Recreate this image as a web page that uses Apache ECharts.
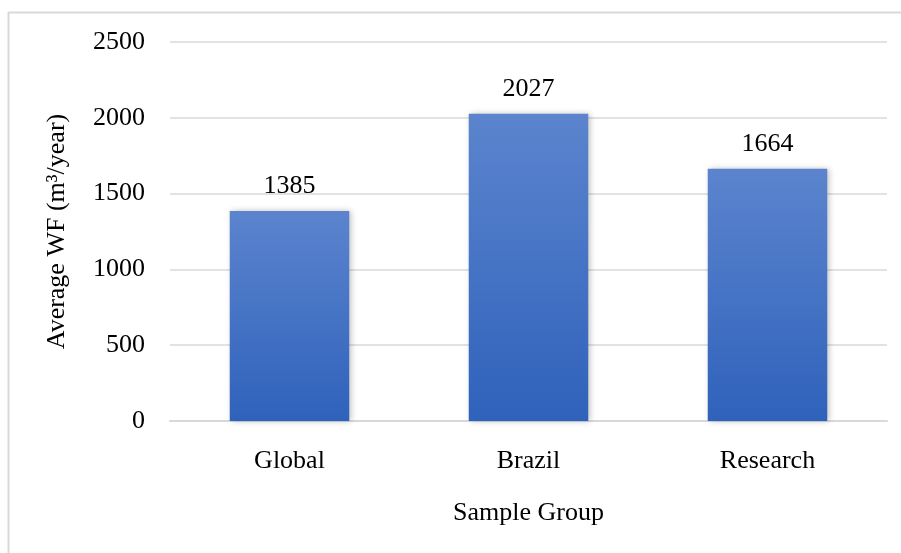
<!DOCTYPE html>
<html>
<head>
<meta charset="utf-8">
<script src="https://cdn.jsdelivr.net/npm/echarts@6/dist/echarts.min.js"></script>
<style>
  html, body { margin: 0; padding: 0; background: #fff; }
  #chart { width: 901px; height: 553px; }
</style>
</head>
<body>
<div id="chart"></div>
<script>
var categories = ['Global', 'Brazil', 'Research'];
var averageWF = [1385, 2027, 1664];
var yTicks = [0, 500, 1000, 1500, 2000, 2500];

var font = '"Liberation Serif", "Times New Roman", serif';
var myChart = echarts.init(document.getElementById('chart'));

var option = {
    animation: false,
    backgroundColor: '#fff',
    graphic: [
        // frame of the chart area (top and left edges only are visible)
        { type: 'line', shape: { x1: 8, y1: 12.5, x2: 901, y2: 12.5 }, style: { stroke: '#d9d9d9', lineWidth: 2 } },
        { type: 'line', shape: { x1: 8.5, y1: 12, x2: 8.5, y2: 553 }, style: { stroke: '#d9d9d9', lineWidth: 2 } }
    ],
    grid: {
        left: 170,
        right: 14,
        top: 42,
        bottom: 132
    },
    xAxis: {
        type: 'category',
        data: categories,
        name: 'Sample Group',
        nameLocation: 'middle',
        nameGap: 79,
        nameTextStyle: { fontFamily: font, fontSize: 26, color: '#000' },
        axisLine: { lineStyle: { color: '#d9d9d9', width: 2 } },
        axisTick: { show: false },
        axisLabel: { fontFamily: font, fontSize: 26, color: '#000', margin: 27 }
    },
    yAxis: {
        type: 'value',
        min: yTicks[0],
        max: yTicks[yTicks.length - 1],
        interval: yTicks[1] - yTicks[0],
        name: 'Average WF (m³/year)',
        nameLocation: 'middle',
        nameGap: 100,
        nameTextStyle: { fontFamily: font, fontSize: 26, color: '#000' },
        axisLine: { show: false },
        axisTick: { show: false },
        axisLabel: {
            fontFamily: font, fontSize: 26, color: '#000', margin: 25,
            formatter: function (v) { return String(v); }
        },
        splitLine: { lineStyle: { color: '#d9d9d9', width: 1.5 } }
    },
    series: [
        {
            type: 'bar',
            data: averageWF,
            barWidth: '50%',
            itemStyle: {
                color: new echarts.graphic.LinearGradient(0, 0, 0, 1, [
                    { offset: 0, color: '#5c84ce' },
                    { offset: 1, color: '#2f62bb' }
                ]),
                shadowColor: 'rgba(0,0,0,0.25)',
                shadowBlur: 6,
                shadowOffsetX: 2
            },
            label: {
                show: true,
                position: 'top',
                distance: 12,
                fontFamily: font,
                fontSize: 26,
                color: '#000'
            }
        }
    ]
};

myChart.setOption(option);
</script>
</body>
</html>
